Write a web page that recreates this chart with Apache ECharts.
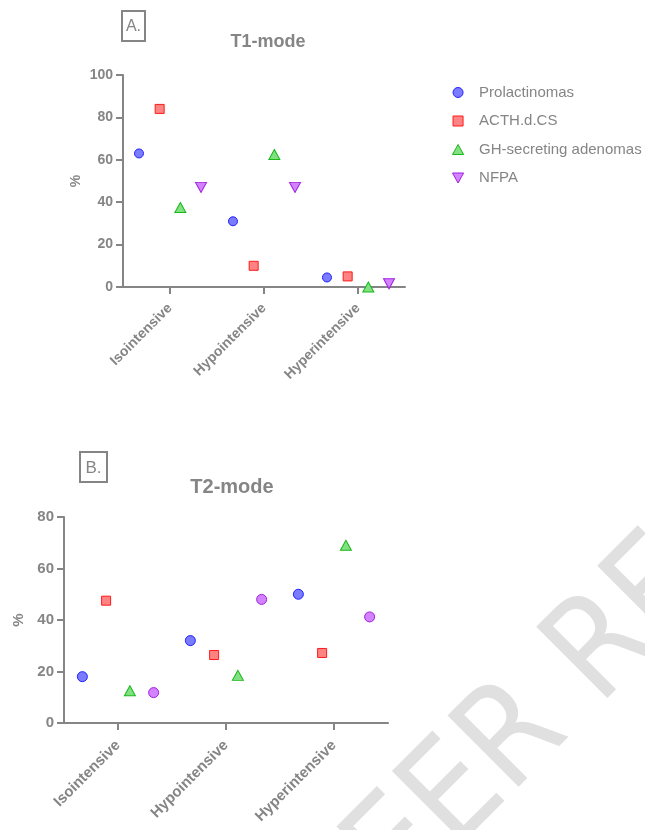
<!DOCTYPE html>
<html><head><meta charset="utf-8">
<script src="https://cdn.jsdelivr.net/npm/echarts@6/dist/echarts.min.js"></script>
<style>html,body{margin:0;padding:0;background:#fff}#c{width:645px;height:830px}</style>
</head><body><div id="c"></div>
<script>
// ---- data ----
const categories = ['Isointensive', 'Hypointensive', 'Hyperintensive'];
const seriesNames = ['Prolactinomas', 'ACTH.d.CS', 'GH-secreting adenomas', 'NFPA'];
const t1Prolactinomas = [63, 31, 4.5];
const t1ACTH = [84, 10, 5];
const t1GH = [37.5, 62.5, 0];
const t1NFPA = [47, 47, 1.5];
const t2Prolactinomas = [18, 32, 50];
const t2ACTH = [47.5, 26.4, 27.2];
const t2GH = [12.5, 18.5, 69];
const t2NFPA = [11.8, 48, 41.2];
const t1Ticks = [0, 20, 40, 60, 80, 100];
const t2Ticks = [0, 20, 40, 60, 80];

// ---- style ----
const grey = '#858585';
const font = '"Liberation Sans", Arial, sans-serif';
const dodge = [-0.33, -0.11, 0.11, 0.33];
const downTri = 'path://M0,0 L10,0 L5,9 Z';
const upTri = 'path://M5,0 L10,9 L0,9 Z';
const square = 'path://M0,0 L10,0 L10,10 L0,10 Z';
const styles = [
  { symbol: 'circle', legend: 'circle', size: 9, fill: '#7b7bff', border: '#2020ff' },
  { symbol: 'rect', legend: square, size: 9, fill: '#ff8383', border: '#ff1a1a' },
  { symbol: 'triangle', legend: upTri, size: [11, 10], fill: '#82e082', border: '#18b818' },
  { symbol: downTri, legend: downTri, size: [11, 10], fill: '#d383ff', border: '#a020e0' }
];

function pts(vals, s) { return vals.map((v, i) => [i + dodge[s], v]); }

const chart = echarts.init(document.getElementById('c'), null, { renderer: 'canvas' });

function yAxis(grid, ticks, fs, gap) {
  return {
    type: 'value', gridIndex: grid, min: ticks[0], max: ticks[ticks.length - 1], interval: 20,
    name: '%', nameLocation: 'middle', nameGap: gap, nameRotate: 90,
    nameTextStyle: { color: grey, fontFamily: font, fontWeight: 'bold', fontSize: fs },
    axisLine: { show: true, onZero: false, lineStyle: { color: grey, width: 2 } },
    axisTick: { show: true, length: 7, lineStyle: { color: grey, width: 2 } },
    axisLabel: { color: grey, fontFamily: font, fontWeight: 'bold', fontSize: fs, margin: 10 },
    splitLine: { show: false }
  };
}
function xCat(grid, fs, margin) {
  return {
    type: 'category', gridIndex: grid, data: categories, boundaryGap: true,
    axisLine: { show: true, onZero: false, lineStyle: { color: grey, width: 2 } },
    axisTick: { show: true, alignWithLabel: true, length: 7, lineStyle: { color: grey, width: 2 } },
    axisLabel: { color: grey, fontFamily: font, fontWeight: 'bold', fontSize: fs, rotate: 45, margin: margin, interval: 0 },
    splitLine: { show: false }
  };
}
function xVal(grid) {
  return { type: 'value', gridIndex: grid, min: -0.5, max: 2.5, show: false, splitLine: { show: false } };
}

const t1Data = [t1Prolactinomas, t1ACTH, t1GH, t1NFPA];
const t2Data = [t2Prolactinomas, t2ACTH, t2GH, t2NFPA];
const series = [];
t1Data.forEach((vals, s) => {
  series.push({
    name: seriesNames[s], type: 'scatter', xAxisIndex: 1, yAxisIndex: 0,
    data: pts(vals, s), symbol: styles[s].symbol, symbolSize: styles[s].size,
    itemStyle: { color: styles[s].fill, borderColor: styles[s].border, borderWidth: 1, opacity: 1 },
    emphasis: { disabled: true }, z: 5
  });
});
t2Data.forEach((vals, s) => {
  const st = styles[s];
  series.push({
    name: seriesNames[s], type: 'scatter', xAxisIndex: 3, yAxisIndex: 1,
    data: pts(vals, s), symbol: s === 3 ? 'circle' : st.symbol, symbolSize: s === 3 ? 10 : (s === 0 ? 10 : st.size),
    itemStyle: { color: st.fill, borderColor: st.border, borderWidth: 1, opacity: 1 },
    emphasis: { disabled: true }, z: 5
  });
});

const option = {
  backgroundColor: '#fff',
  animation: false,
  grid: [
    { left: 123, top: 75, width: 282, height: 212 },
    { left: 64, top: 517, width: 324, height: 206 }
  ],
  xAxis: [xCat(0, 14, 19), xVal(0), xCat(1, 15, 20), xVal(1)],
  yAxis: [yAxis(0, t1Ticks, 14, 40), yAxis(1, t2Ticks, 15, 37)],
  title: [
    { text: 'T1-mode', left: 263, top: 28, textAlign: 'center',
      textStyle: { color: grey, fontFamily: font, fontWeight: 'bold', fontSize: 18 } },
    { text: 'T2-mode', left: 227, top: 472, textAlign: 'center',
      textStyle: { color: grey, fontFamily: font, fontWeight: 'bold', fontSize: 20 } }
  ],
  legend: {
    orient: 'vertical', left: 447, top: 80, itemWidth: 32, itemHeight: 10, itemGap: 13.5,
    textStyle: { color: grey, fontFamily: font, fontSize: 15 },
    data: seriesNames.map((n, s) => ({ name: n, icon: styles[s].legend,
      itemStyle: { color: styles[s].fill, borderColor: styles[s].border, borderWidth: 1 } })),
    selectedMode: false
  },
  graphic: [
    { type: 'text', z: -10, x: 272, y: 885, rotation: Math.PI / 4,
      style: { text: 'PEER REVIEW', font: '138px "DejaVu Sans Condensed"', fill: '#e0e0e0' } },
    { type: 'rect', shape: { x: 122, y: 11, width: 23, height: 30 }, style: { fill: '#fff', stroke: grey, lineWidth: 2 } },
    { type: 'text', x: 133.5, y: 27, style: { text: 'A.', font: '16px "Liberation Sans"', fill: grey, textAlign: 'center', textVerticalAlign: 'middle' } },
    { type: 'rect', shape: { x: 80, y: 452, width: 27, height: 30 }, style: { fill: '#fff', stroke: grey, lineWidth: 2 } },
    { type: 'text', x: 93.5, y: 468, style: { text: 'B.', font: '17px "Liberation Sans"', fill: grey, textAlign: 'center', textVerticalAlign: 'middle' } }
  ],
  series: series
};
chart.setOption(option);
</script>
</body></html>
